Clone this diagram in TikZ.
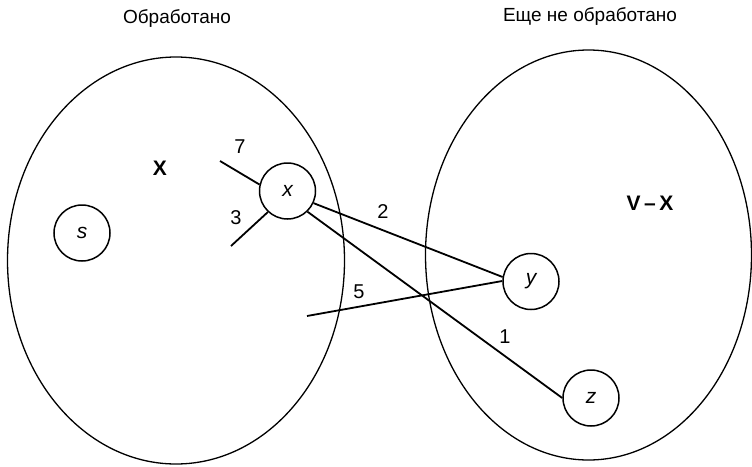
\documentclass[tikz,border=0pt]{standalone}
\usepackage{fontspec}
\setmainfont{Liberation Sans}
\begin{document}
\begin{tikzpicture}[x=1pt,y=-1pt,
  vtx/.style={draw,circle,line width=1.5pt,minimum size=56pt,inner sep=0pt,font=\fontsize{21}{24}\selectfont\itshape},
  setline/.style={line width=1.3pt},
  edge/.style={line width=1.8pt},
  lbl/.style={inner sep=0pt,font=\fontsize{20}{23}\selectfont},
  title/.style={inner sep=0pt,font=\fontsize{19}{22}\selectfont},
  setname/.style={inner sep=0pt,font=\fontsize{21}{24}\selectfont\bfseries}]
\useasboundingbox (0,0) rectangle (752,466);
% sets
\draw[setline] (176,260.5) ellipse [x radius=168.5, y radius=203.5];
\draw[setline] (588.5,255) ellipse [x radius=163, y radius=205];
\node[title] (t1) at (177,19) {Обработано};
\node[title] (t2) at (590,17) {Еще не обработано};
\node[setname] (X) at (160,168) {X};
\node[setname] (VX) at (650,203) {V\,–\,X};
% vertices
\node[vtx] (s) at (82,233) {s};
\node[vtx] (x) at (287.5,191) {x};
\node[vtx] (y) at (531,281.5) {y};
\node[vtx] (z) at (591,398) {z};
% free ends
\coordinate (a7) at (220,161);
\coordinate (a3) at (231,246);
\coordinate (a5) at (307,316);
% edges
\draw[edge] (a7) -- (x.167);
\draw[edge] (a3) -- (x.-133);
\draw[edge] (x.-25) -- (y.171);
\draw[edge] (x.-46) -- (z.west);
\draw[edge] (a5) -- (y.179);
% weights
\node[lbl] (w7) at (240,147) {7};
\node[lbl] (w3) at (236,218) {3};
\node[lbl] (w2) at (383,212) {2};
\node[lbl] (w5) at (359,292) {5};
\node[lbl] (w1) at (505,337) {1};
\end{tikzpicture}
\end{document}
